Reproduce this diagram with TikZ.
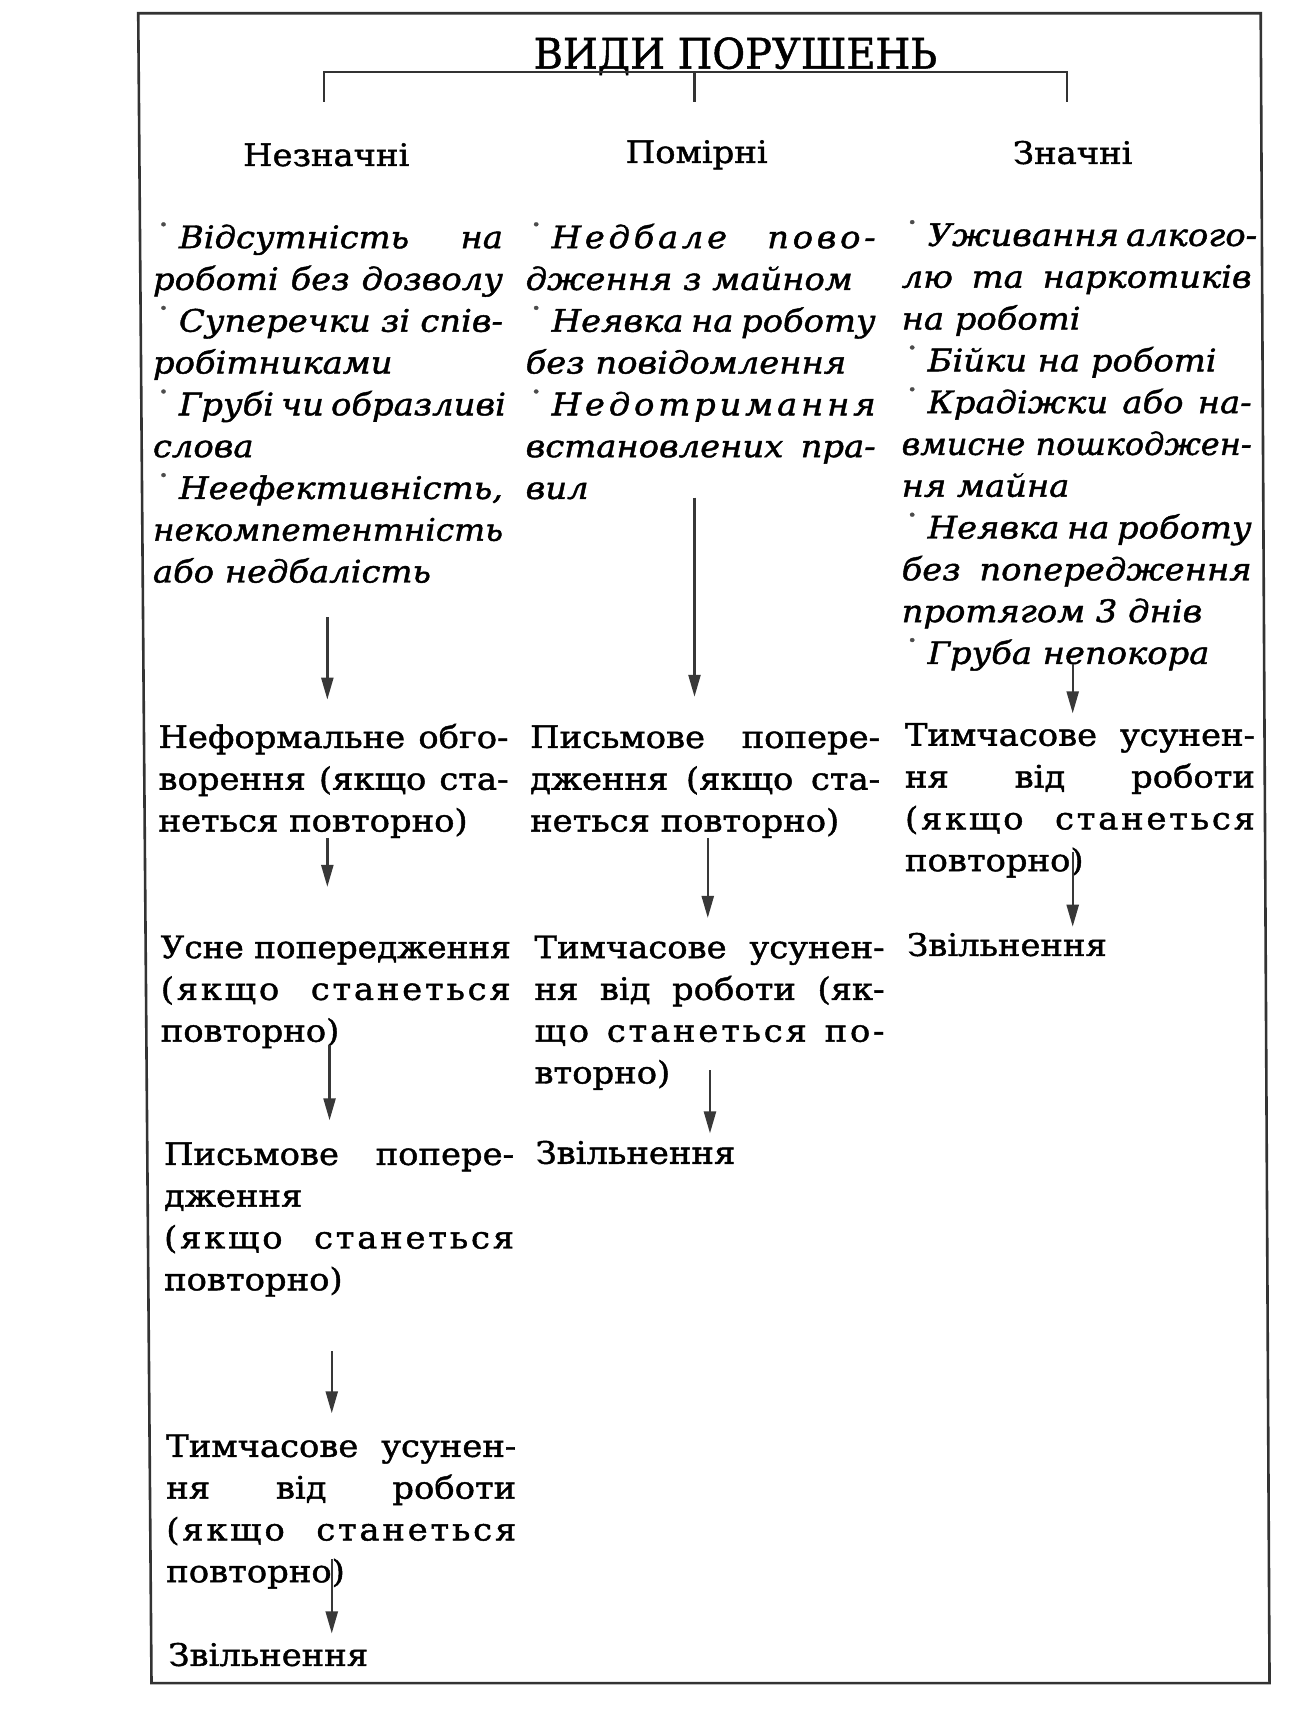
\documentclass[tikz,border=0pt]{standalone}
\usepackage{fontspec}
\usepackage{graphicx}
\setmainfont[FakeStretch=1.09,FakeBold=1.4]{DejaVu Serif}
\newfontfamily\ttlfont[FakeStretch=0.95,FakeBold=1.2]{DejaVu Serif}
\usetikzlibrary{arrows.meta}
\newlength\colw \setlength\colw{175pt}
\newcommand\jline[1]{\makebox[\colw][s]{#1}}
\newcommand\fitline[1]{\resizebox{\colw}{\height}{#1}}
\newcommand\jls[2][9]{\makebox[\colw][s]{\addfontfeature{LetterSpace=#1}#2}}
\newcommand\bul{\kern3pt{\color{black!70}\raisebox{0.6em}{\fontsize{7pt}{7pt}\selectfont\textbullet}}\kern 5.5pt}
\newcommand\tstrut{\rule{0pt}{13pt}}
\tikzset{
  para/.style={anchor=north west, inner sep=0pt, align=left, font=\fontsize{15.5pt}{20.9pt}\selectfont},
  ipara/.style={para, font=\fontsize{15.5pt}{20.9pt}\selectfont\itshape},
  head/.style={inner sep=0pt, font=\fontsize{15.5pt}{18pt}\selectfont},
  ttl/.style={inner sep=0pt, anchor=base, font=\fontsize{21pt}{24pt}\ttlfont},
  arr/.style={draw=black!78, line width=1.2pt, -{Triangle[length=11pt,width=6pt]}},
  frm/.style={draw=black!80, line width=1.3pt},
  brk/.style={draw=black!80, line width=1.1pt},
}
\begin{document}
\begin{tikzpicture}[x=0.553pt, y=-0.553pt]
\useasboundingbox (0,0) rectangle (1188,1568);
% frame
\draw[frm] (125,12) -- (1140,12) -- (1148,1522) -- (137,1522) -- cycle;
% title
\node[ttl] (T) at (665,62) {ВИДИ ПОРУШЕНЬ};
\coordinate (bl) at (293,92);
\coordinate (bm) at (628,92);
\coordinate (br) at (965,92);
\draw[brk] (bl) -- ++(0,-27) -| (br);
\draw[brk] (bm) -- ++(0,-27);
% headers
\node[head] (H1) at (295,140) {Незначні};
\node[head] (H2) at (630,140) {Помірні};
\node[head] (H3) at (970,138) {Значні};
% bullet lists
\node[ipara] (L0) at (138,200.5) {\tstrut\jline{\bul Відсутність на}\\
\jline{роботі без дозволу}\\
\jline{\bul Суперечки зі спів-}\\
робітниками\\
\jline{\bul Грубі чи образливі}\\
слова\\
\fitline{\bul Неефективність,}\\
\fitline{некомпетентність}\\
або недбалість};
\node[ipara] (M0) at (475,200.5) {\tstrut\jls[12]{\bul Недбале пово-}\\
дження з майном\\
\jline{\bul Неявка на роботу}\\
без повідомлення\\
\makebox[\colw][s]{\bul Н\hfill е\hfill д\hfill о\hfill т\hfill р\hfill и\hfill м\hfill а\hfill н\hfill н\hfill я}\\
\jline{встановлених пра-}\\
вил};
\node[ipara] (R0) at (815,198.5) {\tstrut\jline{\bul Уживання алкого-}\\
\jline{лю та наркотиків}\\
на роботі\\
\bul Бійки на роботі\\
\jline{\bul Крадіжки або на-}\\
\fitline{вмисне пошкоджен-}\\
ня майна\\
\jline{\bul Неявка на роботу}\\
\jline{без попередження}\\
протягом 3 днів\\
\bul Груба непокора};
% left column
\node[para] (L1) at (143,652.5) {\tstrut\jline{Неформальне обго-}\\
\jline{ворення (якщо ста-}\\
неться повторно)};
\node[para] (L2) at (145,842.5) {\tstrut\fitline{Усне попередження}\\
\jls{(якщо станеться}\\
повторно)};
\node[para] (L3) at (148,1029.5) {\tstrut\jline{Письмове попере-}\\
дження\\
\jls{(якщо станеться}\\
повторно)};
\node[para] (L4) at (150,1293.5) {\tstrut\jline{Тимчасове усунен-}\\
\jline{ня від роботи}\\
\jls{(якщо станеться}\\
повторно)};
\node[para] (L5) at (152,1482.5) {\tstrut Звільнення};
% middle column
\node[para] (M1) at (479,652.5) {\tstrut\jline{Письмове попере-}\\
\jline{дження (якщо ста-}\\
неться повторно)};
\node[para] (M2) at (483,842.5) {\tstrut\jline{Тимчасове усунен-}\\
\jline{ня від роботи (як-}\\
\jls{що станеться по-}\\
вторно)};
\node[para] (M3) at (484,1028.5) {\tstrut Звільнення};
% right column
\node[para] (R1) at (818,650.5) {\tstrut\jline{Тимчасове усунен-}\\
\jline{ня від роботи}\\
\jls{(якщо станеться}\\
повторно)};
\node[para] (R2) at (820,840.5) {\tstrut Звільнення};
% arrows
\coordinate (a1) at (296,558);
\coordinate (a2) at (296,758);
\coordinate (a3) at (298,945);
\coordinate (a4) at (300,1222);
\coordinate (a5) at (300,1410);
\coordinate (b1) at (628,450);
\coordinate (b2) at (640,758);
\coordinate (b3) at (642,968);
\coordinate (c1) at (970,600);
\coordinate (c2) at (970,770);
\draw[arr, shorten >=11pt] (a1) -- (a1 |- L1.north);
\draw[arr, shorten >=22.4pt] (a2) -- (a2 |- L2.north);
\draw[arr, shorten >=9.1pt] (a3) -- (a3 |- L3.north);
\draw[arr, shorten >=8.6pt] (a4) -- (a4 |- L4.north);
\draw[arr, shorten >=3pt] (a5) -- (a5 |- L5.north);
\draw[arr, shorten >=12.4pt] (b1) -- (b1 |- M1.north);
\draw[arr, shorten >=6.9pt] (b2) -- (b2 |- M2.north);
\draw[arr, shorten >=2pt] (b3) -- (b3 |- M3.north);
\draw[arr, shorten >=3pt] (c1) -- (c1 |- R1.north);
\draw[arr, shorten >=1.4pt] (c2) -- (c2 |- R2.north);
\end{tikzpicture}
\end{document}
